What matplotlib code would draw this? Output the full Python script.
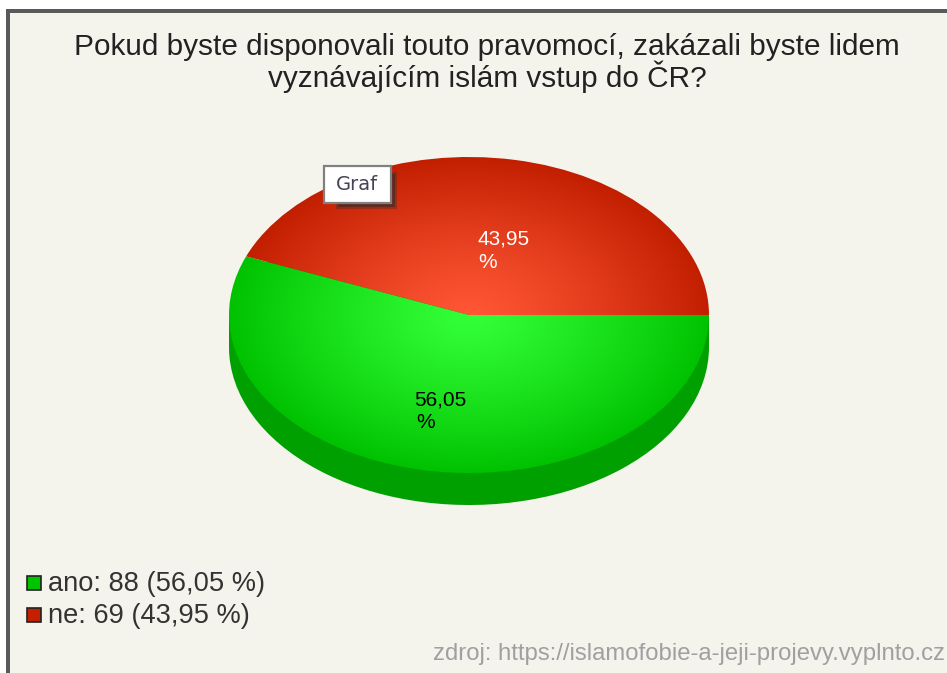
import matplotlib
matplotlib.use("Agg")
import matplotlib.pyplot as plt
from matplotlib.patches import Rectangle
import numpy as np

# data
categories = ["ano", "ne"]
counts = [88, 69]
percent_labels = ["56,05", "43,95"]
title = "Pokud byste disponovali touto pravomocí, zakázali byste lidem\nvyznávajícím islám vstup do ČR?"
source = "zdroj: https://islamofobie-a-jeji-projevy.vyplnto.cz"

W, H = 947, 673
plt.rcParams["font.family"] = ["Liberation Sans", "DejaVu Sans"]
fig = plt.figure(figsize=(W / 100, H / 100), dpi=100, facecolor="white")

# vrstva v pixelech (ram, texty)
bg = fig.add_axes([0, 0, 1, 1], zorder=0)
bg.set_xlim(0, W)
bg.set_ylim(H, 0)
bg.axis("off")
bg.add_patch(Rectangle((6, 9), W, H, fc="#5a5a5a", ec="none"))
bg.add_patch(Rectangle((10, 13), W, H, fc="#f4f3ec", ec="none"))

# kolac - elipsa
cx, cy, rx, ry, depth = 469, 315, 240, 158, 32
pie_ax = fig.add_axes([(cx - rx) / W, 1 - (cy + ry + depth) / H, 2 * rx / W, (2 * ry + depth) / H], zorder=1)
dy = depth / ry
start = 360 - 360 * counts[0] / sum(counts)

# bok
pie_ax.add_patch(Rectangle((-1, -dy), 2, dy, fc="#00a000", ec="none"))
pie_ax.pie(counts, startangle=start, colors=["#00a000", "#00a000"], radius=1, center=(0, -dy))

wedges, _ = pie_ax.pie(counts, startangle=start, colors=["none", "none"], radius=1)
pie_ax.set_aspect("auto")


def radial(inner, outer):
    g = np.linspace(-1, 1, 500)
    xx, yy = np.meshgrid(g, g)
    t = np.clip(np.hypot(xx, yy), 0, 1)[..., None] ** 1.2
    return (1 - t) * np.array(inner) + t * np.array(outer)


gradients = [
    radial((0.20, 1.00, 0.22), (0.00, 0.76, 0.00)),
    radial((1.00, 0.34, 0.21), (0.76, 0.12, 0.00)),
]
for w, grad in zip(wedges, gradients):
    im = pie_ax.imshow(grad, extent=(-1, 1, -1, 1), aspect="auto", origin="lower", zorder=2)
    im.set_clip_path(w)
pie_ax.set_xlim(-1, 1)
pie_ax.set_ylim(-1 - dy, 1)

# popisky a legenda
top = fig.add_axes([0, 0, 1, 1], zorder=2)
top.set_xlim(0, W)
top.set_ylim(H, 0)
top.axis("off")
top.patch.set_alpha(0)

top.text(487, 63, title, ha="center", va="center", fontsize=21.4, color="#222222", linespacing=1.0)

top.text(414, 400, percent_labels[0], fontsize=15, color="black", va="center")
top.text(416, 423, "%", fontsize=15, color="black", va="center")
top.text(477, 239, percent_labels[1], fontsize=15, color="white", va="center")
top.text(478, 262, "%", fontsize=15, color="white", va="center")

# Graf - stitek
top.add_patch(Rectangle((336, 172), 61, 37, fc="#2a2a2a", ec="none", alpha=0.3))
top.add_patch(Rectangle((338, 174), 57, 33, fc="#2a2a2a", ec="none", alpha=0.5))
top.add_patch(Rectangle((323.5, 165.5), 67, 37, fc="white", ec="#808080", lw=1.6))
top.text(357, 184, "Graf", fontsize=14, color="#444455", ha="center", va="center", family="DejaVu Sans")

legend_colors = ["#00c400", "#c42000"]
for i, (c, n, p) in enumerate(zip(categories, counts, percent_labels)):
    y = 583 + i * 32
    top.add_patch(Rectangle((27, y - 7), 14, 14, fc=legend_colors[i], ec="#222222", lw=1.2))
    top.text(48, y + 1, f"{c}: {n} ({p} %)", fontsize=19.6, color="#333333", va="center")

top.text(945, 654, source, fontsize=17.2, color="#a0a0a0", ha="right", va="center")

fig.savefig("out.png", dpi=100)
